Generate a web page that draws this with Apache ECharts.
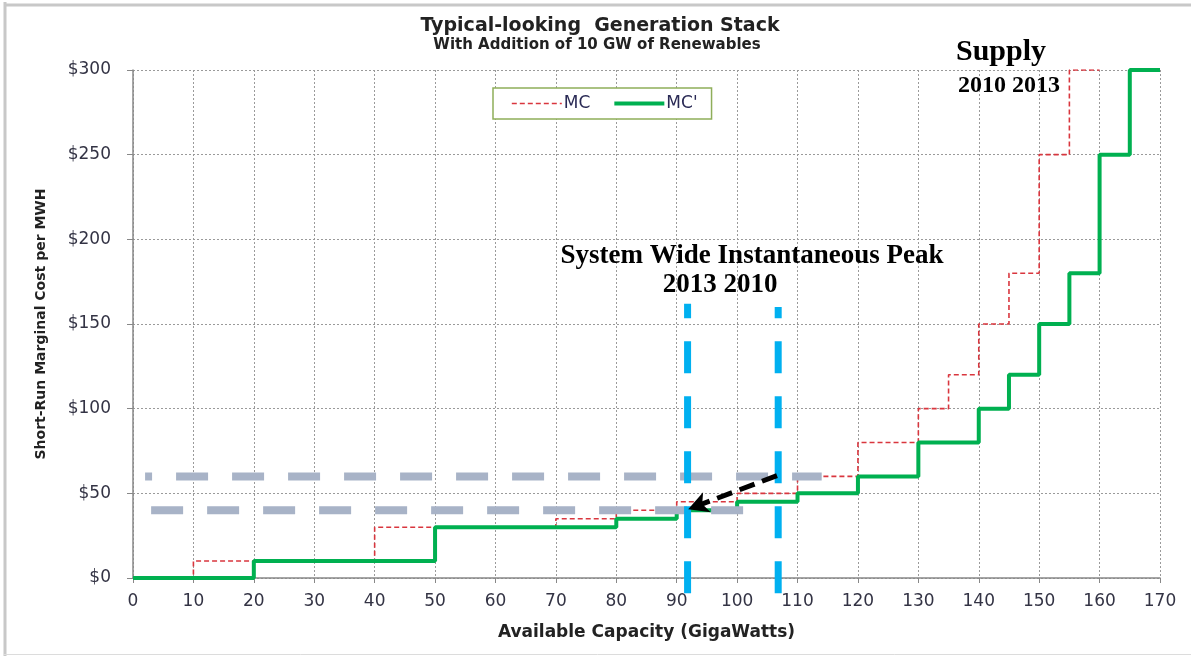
<!DOCTYPE html>
<html>
<head>
<meta charset="utf-8">
<title>Generation Stack</title>
<script src="https://cdn.jsdelivr.net/npm/echarts@6/dist/echarts.min.js"></script>
<style>
  html, body { margin: 0; padding: 0; background: #fff; }
  #main { width: 1191px; height: 656px; }
</style>
</head>
<body>
<div id="main"></div>
<script type="text/javascript">
// step curves: capacity where each block starts, and its marginal cost
var mcCap  = [0, 10, 40, 70, 80, 90, 100, 110, 120, 130, 135, 140, 145, 150, 155, 160];
var mcCost = [0, 10, 30, 35, 40, 45, 50, 60, 80, 100, 120, 150, 180, 250, 300, 300];
var mc2Cap  = [0, 20, 50, 80, 90, 100, 110, 120, 130, 140, 145, 150, 155, 160, 165, 170];
var mc2Cost = [0, 10, 30, 35, 40, 45, 50, 60, 80, 100, 120, 150, 180, 250, 300, 300];

// price guides (gray dashed) and peak demand lines (blue dashed)
var priceHigh = [[2, 60], [114, 60]];
var priceLow  = [[3, 40], [101, 40]];
var peak2013 = [[91.8, -9], [91.8, 162]];
var peak2010 = [[106.8, -9], [106.8, 160]];
var arrowFrom = [106.6, 60.5];
var arrowTo   = [91.9, 40.6];

var xTicks = { min: 0, max: 170, interval: 10 };
var yTicks = { min: 0, max: 300, interval: 50 };

function pairs(xs, ys) {
  return xs.map(function (x, i) { return [x, ys[i]]; });
}

var chart = echarts.init(document.getElementById('main'));
var labelColor = '#333344';
var sans = '"DejaVu Sans"';
var serif = '"Liberation Serif"';

var option = {
  animation: false,
  backgroundColor: '#fff',
  grid: { left: 133, right: 31, top: 70, bottom: 78, containLabel: false },
  legend: {
    data: [
      { name: 'MC', lineStyle: { width: 1.6 } },
      { name: "MC'", lineStyle: { width: 4 } }
    ],
    left: 493, top: 88,
    padding: [7, 14, 7, 18],
    itemGap: 22,
    itemWidth: 50,
    itemHeight: 12,
    itemStyle: { opacity: 0 },
    borderColor: '#8FAE5A',
    borderWidth: 1.5,
    backgroundColor: '#fff',
    textStyle: { fontFamily: 'DejaVu Sans', fontSize: 17, color: '#2a2a55', padding: [0, 0, 0, -3] }
  },
  xAxis: {
    type: 'value',
    min: xTicks.min, max: xTicks.max, interval: xTicks.interval,
    name: 'Available Capacity (GigaWatts)',
    nameLocation: 'middle', nameGap: 46,
    nameTextStyle: { fontFamily: 'DejaVu Sans', fontWeight: 'bold', fontSize: 17, color: '#222' },
    axisLine: { lineStyle: { color: '#888', width: 1.5 } },
    axisTick: { show: true, length: 5, lineStyle: { color: '#888' } },
    axisLabel: { margin: 15, fontFamily: 'DejaVu Sans', fontSize: 17, color: labelColor },
    splitLine: { show: true, lineStyle: { color: '#9a9a9a', type: [2, 2], width: 1 } }
  },
  yAxis: {
    type: 'value',
    min: yTicks.min, max: yTicks.max, interval: yTicks.interval,
    name: 'Short-Run Marginal Cost per MWH',
    nameLocation: 'middle', nameGap: 85, nameRotate: 90,
    nameTextStyle: { fontFamily: 'DejaVu Sans', fontWeight: 'bold', fontSize: 14, color: '#222' },
    axisLine: { show: true, lineStyle: { color: '#888', width: 1.5 } },
    axisTick: { show: true, length: 6, lineStyle: { color: '#888' } },
    axisLabel: {
      margin: 22, fontFamily: 'DejaVu Sans', fontSize: 17, color: labelColor,
      formatter: function (v) { return '$' + v; }
    },
    splitLine: { show: true, lineStyle: { color: '#9a9a9a', type: [2, 2], width: 1 } }
  },
  series: [{
    name: 'MC',
    type: 'line',
    step: 'end',
    symbol: 'none',
    data: pairs(mcCap, mcCost),
    itemStyle: { color: '#D9363E' },
    lineStyle: { color: '#D9363E', width: 1.6, type: [5, 3] },
    z: 3
  }, {
    name: "MC'",
    type: 'line',
    step: 'end',
    symbol: 'none',
    data: pairs(mc2Cap, mc2Cost),
    itemStyle: { color: '#00B050' },
    lineStyle: { color: '#00B050', width: 4 },
    z: 4
  }, {
    name: 'price60',
    type: 'line',
    symbol: 'none',
    data: priceHigh,
    lineStyle: { color: '#A8B3C7', width: 8, type: [32, 24], dashOffset: 25, cap: 'butt' },
    z: 5
  }, {
    name: 'price40',
    type: 'line',
    symbol: 'none',
    data: priceLow,
    lineStyle: { color: '#A8B3C7', width: 8, type: [32, 24], cap: 'butt' },
    z: 5
  }, {
    name: 'peak2013',
    type: 'line',
    symbol: 'none',
    clip: false,
    data: peak2013,
    lineStyle: { color: '#00B0F0', width: 7, type: [32, 23], cap: 'butt' },
    z: 6
  }, {
    name: 'peak2010',
    type: 'line',
    symbol: 'none',
    clip: false,
    data: peak2010,
    lineStyle: { color: '#00B0F0', width: 7, type: [32, 23], cap: 'butt' },
    z: 6,
    markLine: {
      silent: true,
      symbol: ['none', 'arrow'],
      symbolSize: [16, 20],
      label: { show: false },
      lineStyle: { color: '#000', width: 5, type: [16, 8] },
      data: [[{ coord: arrowFrom }, { coord: arrowTo }]],
      z: 10
    }
  }],
  graphic: [{
    type: 'line', shape: { x1: 5, y1: 2, x2: 5, y2: 656 },
    style: { stroke: '#c8c8c8', lineWidth: 3 }
  }, {
    type: 'line', shape: { x1: 4, y1: 5, x2: 1191, y2: 5 },
    style: { stroke: '#c8c8c8', lineWidth: 3 }
  }, {
    type: 'line', shape: { x1: 4, y1: 654.5, x2: 1191, y2: 654.5 },
    style: { stroke: '#dcdcdc', lineWidth: 1 }
  }, {
    type: 'text', x: 600, y: 26, z: 20,
    style: { text: 'Typical-looking  Generation Stack', font: 'bold 19px ' + sans, fill: '#222',
             align: 'center', verticalAlign: 'middle' }
  }, {
    type: 'text', x: 597, y: 45, z: 20,
    style: { text: 'With Addition of 10 GW of Renewables', font: 'bold 15px ' + sans, fill: '#222',
             align: 'center', verticalAlign: 'middle' }
  }, {
    type: 'text', x: 1001, y: 52, z: 20,
    style: { text: 'Supply', font: 'bold 30px ' + serif, fill: '#000', align: 'center', verticalAlign: 'middle' }
  }, {
    type: 'text', x: 1009, y: 86, z: 20,
    style: { text: '2010 2013', font: 'bold 24px ' + serif, fill: '#000', align: 'center', verticalAlign: 'middle' }
  }, {
    type: 'text', x: 752, y: 256, z: 20,
    style: { text: 'System Wide Instantaneous Peak', font: 'bold 27px ' + serif, fill: '#000',
             align: 'center', verticalAlign: 'middle' }
  }, {
    type: 'text', x: 720, y: 285, z: 20,
    style: { text: '2013 2010', font: 'bold 27px ' + serif, fill: '#000', align: 'center', verticalAlign: 'middle' }
  }]
};

chart.setOption(option);
</script>
</body>
</html>
